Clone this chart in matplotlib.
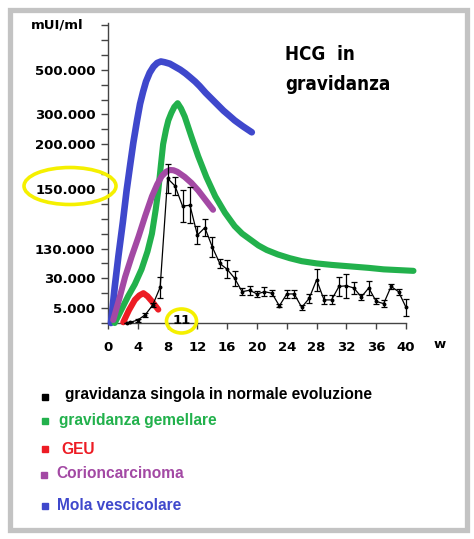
import matplotlib
matplotlib.use('Agg')
import matplotlib.pyplot as plt
from matplotlib.patches import Ellipse, Rectangle
from matplotlib.lines import Line2D

# y is in "tick steps" (the original axis is drawn with uneven labels)
ytick_pos    = list(range(0, 21))
ytick_labels = {1: '5.000', 3: '30.000', 5: '130.000', 9: '150.000',
				12: '200.000', 14: '300.000', 17: '500.000'}
xticks       = list(range(0, 41, 4))

# gravidanza singola (mean + error bar)
sing_w   = [2.5, 3, 4, 5, 6, 7, 8, 9, 10, 11, 12, 13, 14, 15, 16, 17, 18, 19, 20, 21,
			22, 23, 24, 25, 26, 27, 28, 29, 30, 31, 32, 33, 34, 35, 36, 37, 38, 39, 40]
sing_y   = [0.0, 0.05, 0.2, 0.55, 1.2, 2.4, 9.7, 9.2, 7.85, 7.9, 5.9, 6.4, 5.1, 4.0, 3.6, 3.0, 2.1, 2.2, 1.95, 2.1,
			2.0, 1.15, 1.95, 1.95, 1.05, 1.65, 2.9, 1.55, 1.55, 2.45, 2.5, 2.35, 1.75, 2.35, 1.45, 1.3, 2.45, 2.1, 1.05]
sing_err = [0, 0, 0.1, 0.15, 0.15, 0.7, 0.95, 0.6, 1.05, 1.2, 0.6, 0.55, 0.65, 0.3, 0.6, 0.5, 0.25, 0.3, 0.2, 0.3,
			0.2, 0.1, 0.25, 0.25, 0.15, 0.3, 0.75, 0.3, 0.3, 0.65, 0.8, 0.4, 0.2, 0.5, 0.2, 0.25, 0.2, 0.2, 0.55]

# gravidanza gemellare
gem_w = [0.9, 1.8, 2.7, 3.6, 4.5, 5.3, 5.9, 6.4, 6.75, 7.1, 7.4, 7.8, 8.1, 8.5, 8.9, 9.35, 9.8, 10.3, 11.2, 12.1,
		 13.2, 14.4, 15.7, 17.0, 18.0, 19.1, 20.2, 21.3, 22.8, 24.4, 26.0, 28.0, 30.0, 32.5, 35.0, 37.0, 39.0, 41.0]
gem_y = [0.0, 0.9, 1.8, 2.6, 3.6, 4.8, 6.0, 7.6, 8.9, 10.6, 12.0, 13.0, 13.6, 14.1, 14.5, 14.75, 14.4, 13.85, 12.5, 11.2,
		 9.8, 8.5, 7.4, 6.5, 6.0, 5.6, 5.2, 4.9, 4.6, 4.35, 4.15, 4.0, 3.9, 3.8, 3.7, 3.6, 3.55, 3.5]

# GEU
geu_w = [2.05, 2.8, 3.6, 4.2, 4.75, 5.3, 5.9, 6.75]
geu_y = [0.05, 0.85, 1.55, 1.85, 2.0, 1.8, 1.45, 0.9]

# Corioncarcinoma
cor_w = [0.7, 1.5, 2.3, 3.2, 4.1, 5.0, 5.9, 6.6, 7.2, 7.8, 8.3, 8.8, 9.3, 10.3, 11.2, 12.1, 13.1, 14.1]
cor_y = [0.2, 1.6, 3.1, 4.5, 5.8, 7.2, 8.5, 9.3, 9.85, 10.15, 10.27, 10.25, 10.15, 9.8, 9.4, 8.9, 8.25, 7.6]

# Mola vescicolare
mola_w = [0.4, 0.9, 1.4, 2.0, 2.5, 3.0, 3.4, 3.9, 4.3, 4.7, 5.1, 5.6, 6.1, 6.6, 7.1, 7.6, 8.3, 9.0, 9.7,
		  10.4, 11.0, 11.7, 12.3, 13.1, 14.0, 14.8, 15.5, 16.2, 17.0, 18.1, 19.3]
mola_y = [0.0, 2.4, 4.5, 6.8, 8.9, 10.7, 12.1, 13.6, 14.7, 15.5, 16.2, 16.8, 17.2, 17.45, 17.55, 17.5, 17.4, 17.2, 17.0,
		  16.75, 16.5, 16.2, 15.9, 15.45, 15.0, 14.6, 14.25, 13.95, 13.6, 13.2, 12.8]

legend_labels = ['gravidanza singola in normale evoluzione', 'gravidanza gemellare', 'GEU',
				 'Corioncarcinoma', 'Mola vescicolare']
legend_colors = ['#000000', '#22b14c', '#ed1c24', '#a349a4', '#3f48cc']

W, H = 474, 539

def fx(px):
	return px / W

def fy(py):
	return 1 - py / H

def main():
	plt.rcParams['font.family'] = 'DejaVu Sans'
	fig = plt.figure(figsize=(W / 100, H / 100), dpi=100)
	fig.patch.set_facecolor('white')

	ax = fig.add_axes([fx(108), fy(323), fx(406) - fx(108), fy(25) - fy(323)])
	ax.set_xlim(0, 40)
	ax.set_ylim(0, 20)
	for s in ['top', 'right']:
		ax.spines[s].set_visible(False)
	for s in ['left', 'bottom']:
		ax.spines[s].set_color('#444444')
		ax.spines[s].set_linewidth(1)
		ax.spines[s].set_zorder(1)
	ax.spines['left'].set_bounds(0, 20.15)

	ax.set_yticks(ytick_pos)
	ax.set_yticklabels([ytick_labels.get(k, '') for k in ytick_pos])
	ax.set_xticks(xticks)
	ax.set_xticklabels([str(t) for t in xticks])
	ax.tick_params(axis='y', length=5, width=1, color='#444444', pad=4)
	ax.tick_params(axis='x', length=4, width=1, color='#444444', pad=9)
	for lab in ax.get_xticklabels() + ax.get_yticklabels():
		lab.set_fontweight('bold')
		lab.set_fontsize(9.5)

	lw = 4.4
	ax.plot(mola_w, mola_y, color='#3f48cc', lw=4.8, solid_capstyle='round', solid_joinstyle='round',
			clip_on=False, zorder=2)
	ax.plot(gem_w, gem_y, color='#22b14c', lw=lw, solid_capstyle='round', solid_joinstyle='round',
			clip_on=False, zorder=3)
	ax.plot(cor_w, cor_y, color='#a349a4', lw=lw, solid_capstyle='round', solid_joinstyle='round',
			clip_on=False, zorder=4)
	ax.plot(geu_w, geu_y, color='#ed1c24', lw=lw, solid_capstyle='round', solid_joinstyle='round',
			clip_on=False, zorder=5)
	ax.errorbar(sing_w, sing_y, yerr=sing_err, color='black', lw=0.9, elinewidth=0.9,
				capsize=2.4, capthick=0.9, marker='o', markersize=1.8, clip_on=False, zorder=6)

	# axis captions
	fig.text(fx(83), fy(25), 'mUI/ml', ha='right', va='center', fontsize=9.5, fontweight='bold')
	fig.text(fx(440), fy(344), 'w', ha='center', va='center', fontsize=9.5, fontweight='bold')

	# title
	fig.text(fx(285), fy(60), 'HCG  in', ha='left', va='baseline', fontsize=13.5,
			 fontweight='bold', fontstretch='condensed')
	fig.text(fx(285), fy(90), 'gravidanza', ha='left', va='baseline', fontsize=13.5,
			 fontweight='bold', fontstretch='condensed')

	# yellow highlights
	fig.add_artist(Ellipse((fx(70), fy(186)), 92 / W, 37 / H, transform=fig.transFigure,
						   fill=False, edgecolor='#f5f000', lw=2.6, zorder=10))
	fig.add_artist(Ellipse((fx(181.5), fy(321)), 30 / W, 24 / H, transform=fig.transFigure,
						   fill=False, edgecolor='#f5f000', lw=2.6, zorder=10))
	fig.text(fx(182), fy(321), '11', ha='center', va='center', fontsize=9.5, fontweight='bold', zorder=11)

	# legend
	sq_pos  = [(45, 396.5), (45, 420.5), (45, 449), (43.5, 475), (45, 505.5)]
	txt_pos = [(65, 395), (59, 421), (61, 449), (56, 474), (57, 505)]
	for lab, col, sq, tp in zip(legend_labels, legend_colors, sq_pos, txt_pos):
		fig.add_artist(Line2D([fx(sq[0])], [fy(sq[1])], marker='s', markersize=5, color=col,
							  linestyle='none', transform=fig.transFigure))
		fig.text(fx(tp[0]), fy(tp[1]), lab, ha='left', va='center', color=col,
				 fontsize=11.2, fontweight='bold', family='Liberation Sans')

	# grey frame
	fig.add_artist(Rectangle((fx(9.5), fy(530)), (466.5 - 9.5) / W, (530 - 9.5) / H,
							 transform=fig.transFigure, fill=False, edgecolor='#c3c3c3', lw=3.8))

	fig.savefig('out.png', dpi=100)


if __name__ == '__main__':
	main()
